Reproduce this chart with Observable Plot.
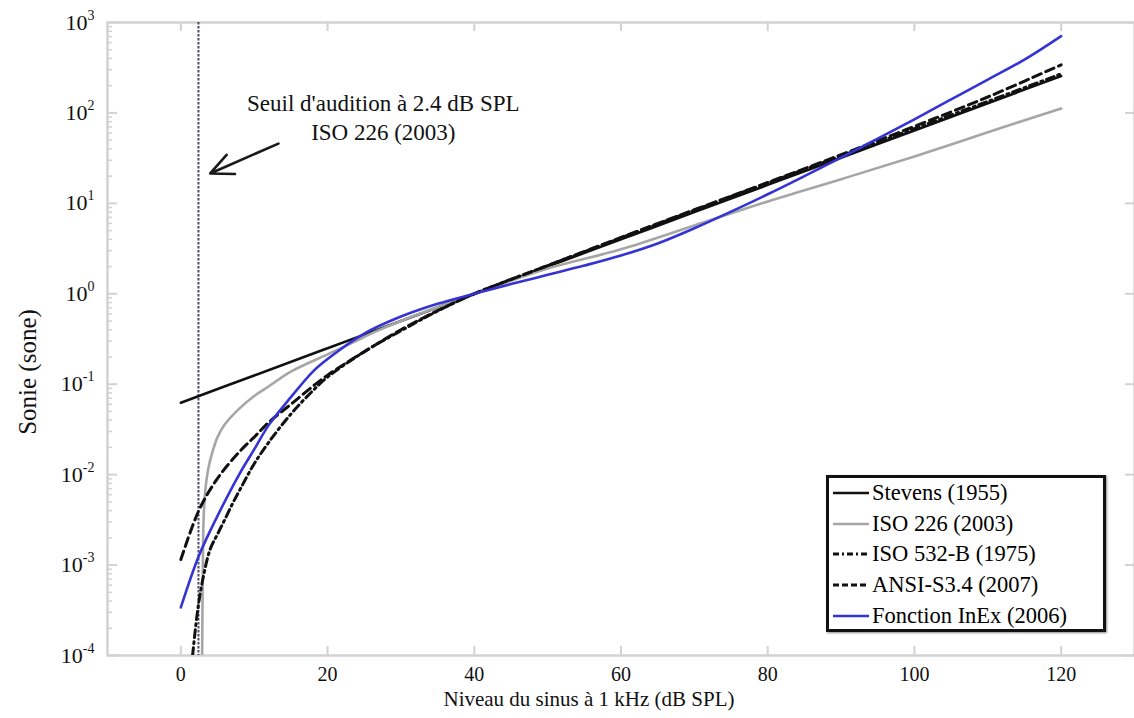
<!DOCTYPE html>
<html><head><meta charset="utf-8">
<script src="https://cdn.jsdelivr.net/npm/d3@7"></script>
<script src="https://cdn.jsdelivr.net/npm/@observablehq/plot@0.6"></script>
<style>
body{margin:0;background:#fff;font-family:"Liberation Serif","Times New Roman",serif;}
#wrap{position:relative;width:1134px;height:718px;overflow:hidden;}
#legend{position:absolute;left:826px;top:475px;width:274px;height:151px;border:3px solid #111;background:#fff;box-shadow:1px 1px 2px rgba(0,0,0,.45);box-sizing:content-box;}
#legend .row{display:flex;align-items:center;height:30.75px;font-size:22.5px;color:#000;white-space:nowrap;}
#legend .row:first-child{margin-top:-0.5px;}
#legend svg{margin-left:4px;margin-right:3px;flex:none;}
</style></head><body><div id="wrap"></div>
<script>
// ---- data ----
const xTicks = [0, 20, 40, 60, 80, 100, 120];
const yDecades = [-4, -3, -2, -1, 0, 1, 2, 3];

const stevensDb   = [0, 10, 20, 30, 40, 50, 60, 70, 80, 90, 100, 110, 120];
const stevensSone = [0.0625, 0.125, 0.25, 0.5, 1, 2, 4, 8, 16, 32, 64, 128, 256];

const iso226Db   = [2.9, 3.0, 3.1, 3.3, 3.6, 4, 5, 6, 8, 10, 12, 15, 20, 23.5, 26, 30, 35, 40, 50, 60, 70, 80, 90, 100, 110, 120];
const iso226Sone = [1e-4, 1e-3, 3.2e-3, 6.3e-3, 0.010, 0.0145, 0.026, 0.036, 0.054, 0.074, 0.095, 0.138, 0.214, 0.29, 0.365, 0.5, 0.71, 1.0, 1.9, 3.1, 5.7, 10.5, 18.5, 33, 61, 112];

const iso532Db   = [1.6, 2.3, 3, 4, 5, 6, 7, 8, 10, 12, 15, 18, 20, 25, 30, 35, 40, 50, 60, 70, 80, 90, 100, 110, 120];
const iso532Sone = [1e-4, 3.2e-4, 7e-4, 1.5e-3, 2.2e-3, 3.2e-3, 4.7e-3, 6.7e-3, 0.0132, 0.0229, 0.0468, 0.085, 0.12, 0.229, 0.39, 0.645, 1.0, 2.05, 4.15, 8.4, 16.8, 33.5, 67, 134, 270];

const ansiDb   = [0, 2.5, 5, 8, 10, 12, 15, 18, 20, 25, 30, 35, 40, 50, 60, 70, 80, 90, 100, 110, 120];
const ansiSone = [1.15e-3, 4.1e-3, 9.1e-3, 0.018, 0.026, 0.038, 0.06, 0.095, 0.126, 0.229, 0.40, 0.65, 1.0, 2.05, 4.2, 8.5, 17, 34.5, 71, 150, 340];

const inexDb   = [0, 2.5, 5, 8, 10, 12, 15, 18, 20, 25, 30, 35, 40, 45, 50, 55, 60, 65, 70, 75, 80, 85, 90, 95, 100, 105, 110, 115, 120];
const inexSone = [3.4e-4, 1.29e-3, 3.5e-3, 0.0102, 0.019, 0.0355, 0.072, 0.138, 0.19, 0.363, 0.56, 0.776, 1.0, 1.28, 1.62, 2.05, 2.65, 3.6, 5.3, 8.1, 12.6, 20, 32, 52, 85, 141, 234, 389, 708];

const seriesNames = ["Stevens (1955)", "ISO 226 (2003)", "ISO 532-B (1975)", "ANSI-S3.4 (2007)", "Fonction InEx (2006)"];

const thresholdDb = 2.4;
const noteLines = ["Seuil d'audition à 2.4 dB SPL", "ISO 226 (2003)"];
const noteX = 27.6, noteY = 130;
const arrowStart = [13.3, 45.8], arrowEnd = [4.0, 21.4];

const xLabel = "Niveau du sinus à 1 kHz (dB SPL)";
const yLabel = "Sonie (sone)";

// ---- styles ----
const styles = [
  {stroke: "#111111", strokeWidth: 2.6, dash: null, legendDash: null},
  {stroke: "#a6a6a6", strokeWidth: 2.6, dash: null, legendDash: null},
  {stroke: "#111111", strokeWidth: 3, dash: "8,4,2,4", legendDash: "6,3,2,3"},
  {stroke: "#111111", strokeWidth: 3, dash: "9,5", legendDash: "6,3"},
  {stroke: "#3434d6", strokeWidth: 2.6, dash: null, legendDash: null}
];
const xs = [stevensDb, iso226Db, iso532Db, ansiDb, inexDb];
const ys = [stevensSone, iso226Sone, iso532Sone, ansiSone, inexSone];
const series = seriesNames.map((name, i) => xs[i].map((x, j) => ({x, y: ys[i][j], name})));

const W = 1134, H = 718, mL = 107, mT = 22, mB = 63, mR = 0;
const pw = W - mL - mR, ph = H - mT - mB;
const grid = "#d2d2d2";
const yMajor = yDecades.map(k => Math.pow(10, k));
const yMinor = [];
yDecades.slice(0, -1).forEach(k => { for (let m = 2; m <= 9; m++) yMinor.push(m * Math.pow(10, k)); });

const marks = [
  Plot.frame({stroke: grid, strokeWidth: 2.5}),
  // inward ticks
  Plot.tickX(xTicks, {x: d => d, stroke: grid, strokeWidth: 2, insetTop: ph - 9}),
  Plot.tickX(xTicks, {x: d => d, stroke: grid, strokeWidth: 2, insetBottom: ph - 9}),
  Plot.tickY(yMajor, {y: d => d, stroke: grid, strokeWidth: 2, insetRight: pw - 10}),
  Plot.tickY(yMinor, {y: d => d, stroke: grid, strokeWidth: 1.5, insetRight: pw - 5}),
  Plot.tickY(yMajor, {y: d => d, stroke: grid, strokeWidth: 2, insetLeft: pw - 9}),
  Plot.axisX({anchor: "bottom", ticks: xTicks, tickSize: 0, tickPadding: 11, fontSize: 20, label: null}),
  Plot.axisY({anchor: "left", ticks: yMajor, tickSize: 0, tickPadding: 13, fontSize: 22, label: null,
    tickFormat: d => "10^" + Math.round(Math.log10(d))}),
  Plot.ruleX([thresholdDb], {stroke: "#4a4a6a", strokeWidth: 2, strokeDasharray: "2.5,1.5"}),
  ...series.map((s, i) => Plot.line(s, {x: "x", y: "y", curve: "catmull-rom", clip: true,
    stroke: styles[i].stroke, strokeWidth: styles[i].strokeWidth, strokeDasharray: styles[i].dash})),
  Plot.text([noteLines.join("\n")], {x: noteX, y: noteY, text: d => d, lineAnchor: "top", lineHeight: 1.26, dy: -12, fontSize: 23, fill: "#111"}),
  Plot.arrow([{x1: arrowStart[0], y1: arrowStart[1], x2: arrowEnd[0], y2: arrowEnd[1]}],
    {x1: "x1", y1: "y1", x2: "x2", y2: "y2", stroke: "#1a1a1a", strokeWidth: 2.6, headLength: 22, headAngle: 50}),
  Plot.text([xLabel], {frameAnchor: "bottom", text: d => d, dy: 50, dx: -32, fontSize: 21, fill: "#111"}),
  Plot.text([yLabel], {frameAnchor: "left", textAnchor: "middle", text: d => d, rotate: -90, dx: -80, dy: 33, fontSize: 25, fill: "#111"})
];

const chart = Plot.plot({
  width: W, height: H,
  marginLeft: mL, marginRight: mR, marginTop: mT, marginBottom: mB,
  style: {fontFamily: "'Liberation Serif', 'Times New Roman', serif", color: "#111", background: "#fff"},
  x: {domain: [-10, 130]},
  y: {type: "log", domain: [1e-4, 1e3]},
  marks
});

// superscript exponents
chart.querySelectorAll('g[aria-label="y-axis tick label"] text').forEach(t => {
  const [base, exp] = t.textContent.split("^");
  t.textContent = base;
  const ts = document.createElementNS("http://www.w3.org/2000/svg", "tspan");
  ts.setAttribute("dy", "-10");
  ts.setAttribute("font-size", "14");
  ts.textContent = exp;
  t.appendChild(ts);
});

const wrap = document.getElementById("wrap");
wrap.appendChild(chart);

// legend
const legend = document.createElement("div");
legend.id = "legend";
seriesNames.forEach((name, i) => {
  const row = document.createElement("div");
  row.className = "row";
  const st = styles[i];
  row.innerHTML = `<svg width="36" height="10"><line x1="0" y1="5" x2="36" y2="5" stroke="${st.stroke}" stroke-width="${st.strokeWidth}" ${st.legendDash ? `stroke-dasharray="${st.legendDash}"` : ""}/></svg><span>${name}</span>`;
  legend.appendChild(row);
});
wrap.appendChild(legend);
</script></body></html>
